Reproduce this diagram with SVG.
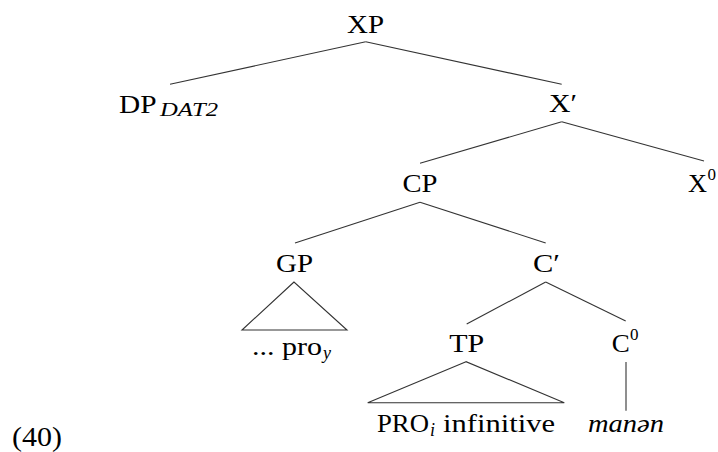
<svg xmlns="http://www.w3.org/2000/svg" width="718" height="452" viewBox="0 0 718 452">
<style>
text{font-family:"Liberation Serif","Times New Roman",serif;font-size:26px;fill:#000}
.m{text-anchor:middle}
.it{font-style:italic}
.sub{font-size:18px}
.sup{font-size:17px}
line,polygon{stroke:#333;stroke-width:1.1;fill:none}
</style>
<rect width="718" height="452" fill="#fff"/>
<g id="connectors">
<line x1="365.7" y1="41.7" x2="170" y2="84.3"/>
<line x1="365.7" y1="41.7" x2="561.7" y2="84.3"/>
<line x1="561.7" y1="121.7" x2="420" y2="163.3"/>
<line x1="561.7" y1="121.7" x2="704" y2="161"/>
<line x1="420" y1="202.3" x2="295" y2="243"/>
<line x1="420" y1="202.3" x2="545.7" y2="243"/>
<line x1="545.7" y1="282" x2="466.7" y2="324"/>
<line x1="545.7" y1="282" x2="625.7" y2="321"/>
<line x1="626" y1="362" x2="626" y2="410.7"/>
</g>
<g id="XP"><text class="m" x="365.5" y="33" textLength="37" lengthAdjust="spacingAndGlyphs">XP</text></g>
<g id="DP"><text x="119" y="112.7" textLength="37.5" lengthAdjust="spacingAndGlyphs">DP</text><text class="it sub" x="160" y="116" textLength="58" lengthAdjust="spacingAndGlyphs">DAT2</text></g>
<g id="Xbar"><text x="549" y="111.7" textLength="28" lengthAdjust="spacingAndGlyphs">X′</text></g>
<g id="CP"><text class="m" x="420" y="191.7" textLength="35" lengthAdjust="spacingAndGlyphs">CP</text></g>
<g id="X0"><text x="688" y="191.7" textLength="19" lengthAdjust="spacingAndGlyphs">X</text><text class="sup" x="707.5" y="180">0</text></g>
<g id="GP"><text class="m" x="294.5" y="272" textLength="37" lengthAdjust="spacingAndGlyphs">GP</text>
<polygon points="294,282 242,330 347,330"/>
<text x="252" y="355" textLength="70" lengthAdjust="spacingAndGlyphs">... pro</text><text class="it sub" x="323" y="359">y</text></g>
<g id="Cbar"><text x="533" y="272" textLength="27" lengthAdjust="spacingAndGlyphs">C′</text></g>
<g id="TP"><text class="m" x="466.7" y="352" textLength="35" lengthAdjust="spacingAndGlyphs">TP</text>
<polygon points="466,361.7 367.7,402.7 564.3,402.7"/>
<text x="377" y="431.7" textLength="52" lengthAdjust="spacingAndGlyphs">PRO</text><text class="it sub" x="430" y="435.5">i</text><text x="443" y="431.7" textLength="112" lengthAdjust="spacingAndGlyphs">infinitive</text></g>
<g id="C0"><text x="611.7" y="351.7" textLength="18" lengthAdjust="spacingAndGlyphs">C</text><text class="sup" x="630" y="340">0</text>
<text class="it" x="588" y="431.7" textLength="76" lengthAdjust="spacingAndGlyphs">manən</text></g>
<g id="label"><text x="12" y="446" style="font-size:28px" textLength="50" lengthAdjust="spacingAndGlyphs">(40)</text></g>
</svg>
